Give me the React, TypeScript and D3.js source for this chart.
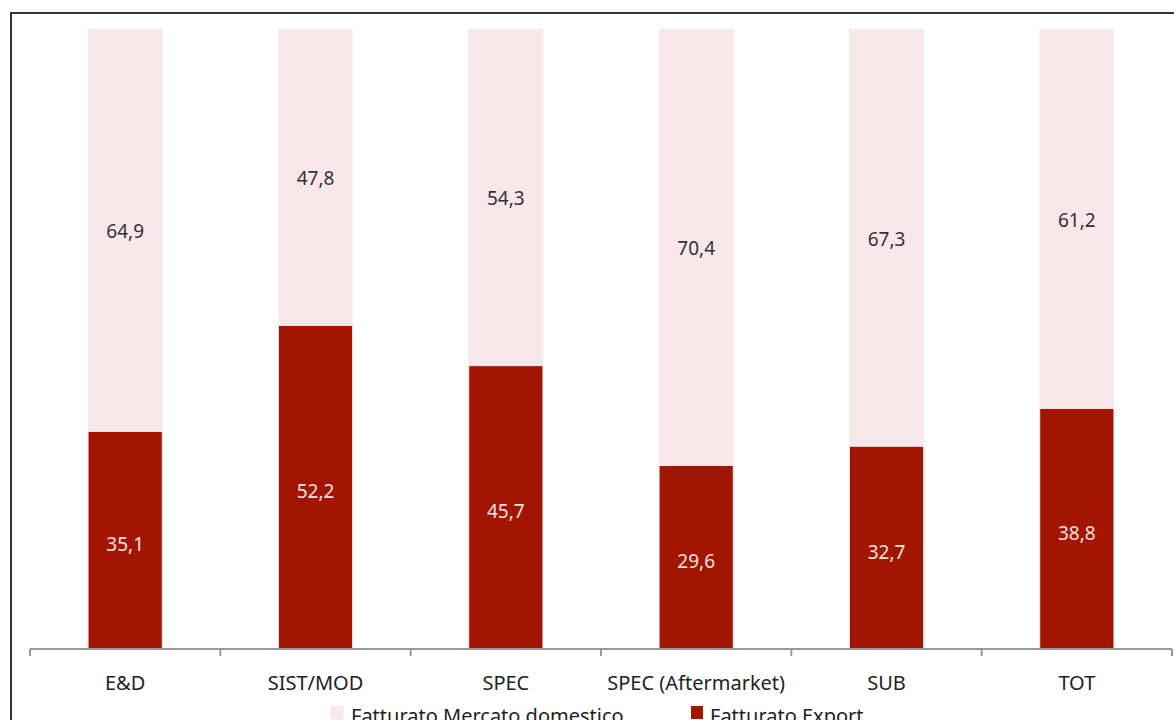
import * as d3 from "d3";

// Chart data (percentages)
const categories = ["E&D", "SIST/MOD", "SPEC", "SPEC (Aftermarket)", "SUB", "TOT"];
const exportShare = [35.1, 52.2, 45.7, 29.6, 32.7, 38.8];
const domesticShare = [64.9, 47.8, 54.3, 70.4, 67.3, 61.2];
const seriesNames = ["Fatturato Mercato domestico", "Fatturato Export"];

const WIDTH = 1174;
const HEIGHT = 720;
const PINK = "#f8e7eb";
const RED = "#a21500";
const FONT = "'Noto Sans', sans-serif";

const fmt = (v: number) => v.toFixed(1).replace(".", ",");

export default function App() {
  const x = d3.scaleBand<string>().domain(categories).range([30, 1172]).padding(0);
  const y = d3.scaleLinear().domain([0, 100]).range([649, 29]);
  const barW = x.bandwidth() * 0.39;
  const ticks = [...categories.map((c) => x(c) as number), 1172];

  return (
    <svg
      width={WIDTH}
      height={HEIGHT}
      style={{ position: "absolute", left: 0, top: 0, background: "#fff" }}
      fontFamily={FONT}
    >
      {/* outer frame */}
      <rect x={11} y={13} width={1300} height={900} fill="none" stroke="#333" strokeWidth={2} />

      {categories.map((c, i) => {
        const bx = (x(c) as number) + (x.bandwidth() - barW) / 2;
        const cx = (x(c) as number) + x.bandwidth() / 2;
        const e = exportShare[i];
        const d = domesticShare[i];
        return (
          <g key={c}>
            {/* domestic on top */}
            <rect
              x={bx}
              y={y(e + d)}
              width={barW}
              height={y(e) - y(e + d)}
              fill={PINK}
              stroke="#f2f2f2"
              strokeWidth={1}
            />
            <rect
              x={bx}
              y={y(e)}
              width={barW}
              height={y(0) - y(e)}
              fill={RED}
              stroke="#f4eaea"
              strokeWidth={1}
            />
            <text
              x={cx}
              y={(y(e + d) + y(e)) / 2 + 1}
              textAnchor="middle"
              dominantBaseline="central"
              fontSize={19}
              fill="#333"
            >
              {fmt(d)}
            </text>
            <text
              x={cx}
              y={(y(e) + y(0)) / 2 + 4}
              textAnchor="middle"
              dominantBaseline="central"
              fontSize={19}
              fill="#f6e2e2"
            >
              {fmt(e)}
            </text>
            <text x={cx} y={682} textAnchor="middle" dominantBaseline="central" fontSize={20} fill="#222">
              {c}
            </text>
          </g>
        );
      })}

      {/* category axis */}
      <line x1={30} x2={1172} y1={649} y2={649} stroke="#999" strokeWidth={2} />
      {ticks.map((t, i) => (
        <line key={i} x1={t} x2={t} y1={649} y2={656} stroke="#999" strokeWidth={2} />
      ))}

      {/* legend */}
      <g>
        <rect x={331} y={706} width={12} height={13} fill={PINK} stroke="#eee" />
        <text x={351} y={715} dominantBaseline="central" fontSize={20} fill="#222">
          {seriesNames[0]}
        </text>
        <rect x={691} y={706} width={12} height={13} fill={RED} />
        <text x={710} y={715} dominantBaseline="central" fontSize={20} fill="#222">
          {seriesNames[1]}
        </text>
      </g>
    </svg>
  );
}
